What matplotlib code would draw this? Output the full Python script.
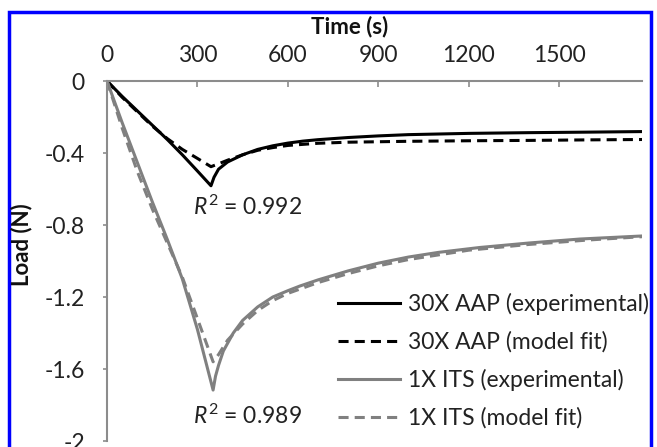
import matplotlib
matplotlib.use("Agg")
import matplotlib.pyplot as plt
from matplotlib.patches import Rectangle

plt.rcParams['font.family'] = ['Lato', 'DejaVu Sans']
plt.rcParams['mathtext.fontset'] = 'custom'
plt.rcParams['mathtext.rm'] = 'Lato'
plt.rcParams['mathtext.it'] = 'Lato:italic'

# 30X AAP, experimental
aap_exp_t = [0, 50, 100, 150, 200, 250, 300, 345, 355, 370, 400, 450, 500, 550, 600,
             650, 700, 800, 900, 1000, 1200, 1400, 1600, 1775]
aap_exp_y = [0, -0.085, -0.165, -0.245, -0.325, -0.41, -0.50, -0.582, -0.535, -0.49, -0.45,
             -0.41, -0.38, -0.36, -0.345, -0.334, -0.326, -0.314, -0.305, -0.298,
             -0.291, -0.287, -0.284, -0.281]

# 30X AAP, model fit
aap_fit_t = [0, 50, 100, 150, 200, 250, 300, 345, 370, 400, 450, 500, 550, 600, 700,
             800, 1000, 1200, 1400, 1600, 1775]
aap_fit_y = [0, -0.09, -0.17, -0.25, -0.32, -0.38, -0.43, -0.476, -0.46, -0.44, -0.41,
             -0.385, -0.37, -0.358, -0.346, -0.34, -0.335, -0.332, -0.33, -0.327, -0.325]

# 1X ITS, experimental
its_exp_t = [0, 50, 100, 150, 200, 250, 300, 352, 360, 370, 386, 419, 450, 500, 550, 600,
             640, 700, 800, 900, 1000, 1100, 1236, 1400, 1568, 1775]
its_exp_y = [0, -0.23, -0.45, -0.67, -0.88, -1.10, -1.38, -1.717, -1.64, -1.58, -1.50,
             -1.40, -1.33, -1.255, -1.20, -1.165, -1.139, -1.105, -1.055, -1.012, -0.978,
             -0.952, -0.925, -0.90, -0.878, -0.861]

# 1X ITS, model fit
its_fit_t = [0, 50, 100, 150, 200, 250, 300, 352, 370, 400, 450, 500, 550, 600, 700,
             800, 900, 1000, 1200, 1400, 1600, 1775]
its_fit_y = [0, -0.26, -0.50, -0.71, -0.90, -1.09, -1.32, -1.56, -1.52, -1.44, -1.35,
             -1.275, -1.22, -1.18, -1.12, -1.07, -1.027, -0.992, -0.94, -0.908, -0.883, -0.865]

x_ticks = [0, 300, 600, 900, 1200, 1500]
y_ticks = [0, -0.4, -0.8, -1.2, -1.6, -2]
y_tick_labels = ['0', '-0.4', '-0.8', '-1.2', '-1.6', '-2']

W, H = 657, 447
FS = 16.5
fig = plt.figure(figsize=(W / 100, H / 100), dpi=100)
ax = fig.add_axes([107 / W, 1 - 441 / H, 535 / W, 360 / H])

dash = (0, (3.3, 2.0))
ax.plot(aap_exp_t, aap_exp_y, color='black', lw=2.2, label='30X AAP (experimental)')
ax.plot(aap_fit_t, aap_fit_y, color='black', lw=2.2, ls=dash, label='30X AAP (model fit)')
ax.plot(its_exp_t, its_exp_y, color='#808080', lw=2.2, label='1X ITS (experimental)')
ax.plot(its_fit_t, its_fit_y, color='#808080', lw=2.2, ls=dash, label='1X ITS (model fit)')

ax.set_xlim(0, 1775)
ax.set_ylim(-2, 0)
ax.set_xticks(x_ticks)
ax.set_yticks(y_ticks)
ax.set_yticklabels(y_tick_labels)

ax.xaxis.set_ticks_position('top')
ax.xaxis.set_label_position('top')
for s in ['right', 'bottom']:
    ax.spines[s].set_visible(False)
for s in ['left', 'top']:
    ax.spines[s].set_color('#8c8c8c')
    ax.spines[s].set_linewidth(1.5)

ax.tick_params(axis='x', direction='in', length=4, width=1.2, color='#8c8c8c',
               labelsize=FS, pad=11, labelcolor='#222222')
ax.tick_params(axis='y', direction='out', length=3, width=1.2, color='#8c8c8c',
               labelsize=FS, pad=13, labelcolor='#222222')

fig.text(350 / W, 1 - 27 / H, 'Time (s)', fontsize=16, fontweight='bold',
         ha='center', va='center', color='#111111')
fig.text(22 / W, 1 - 245 / H, 'Load (N)', fontsize=16, fontweight='bold',
         ha='center', va='center', rotation=90, color='#111111')

ax.text(467, -0.70, r'$R^2$ = 0.992', fontsize=FS, ha='center', va='center',
        color='#222222')
ax.text(467, -1.86, r'$R^2$ = 0.989', fontsize=FS, ha='center', va='center',
        color='#222222')

leg = ax.legend(loc='upper left', bbox_to_anchor=(0.432, 0.41), frameon=False,
                fontsize=FS, handlelength=2.7, handletextpad=0.35,
                labelspacing=0.7, borderpad=0, borderaxespad=0)
for t in leg.get_texts():
    t.set_color('#222222')

fig.patches.append(Rectangle((9 / W, -0.05), (651 - 9) / W, 1.05 - 12 / H,
                             transform=fig.transFigure, fill=False,
                             edgecolor='#0000ff', lw=2.5))

fig.savefig('out.png', dpi=100)
